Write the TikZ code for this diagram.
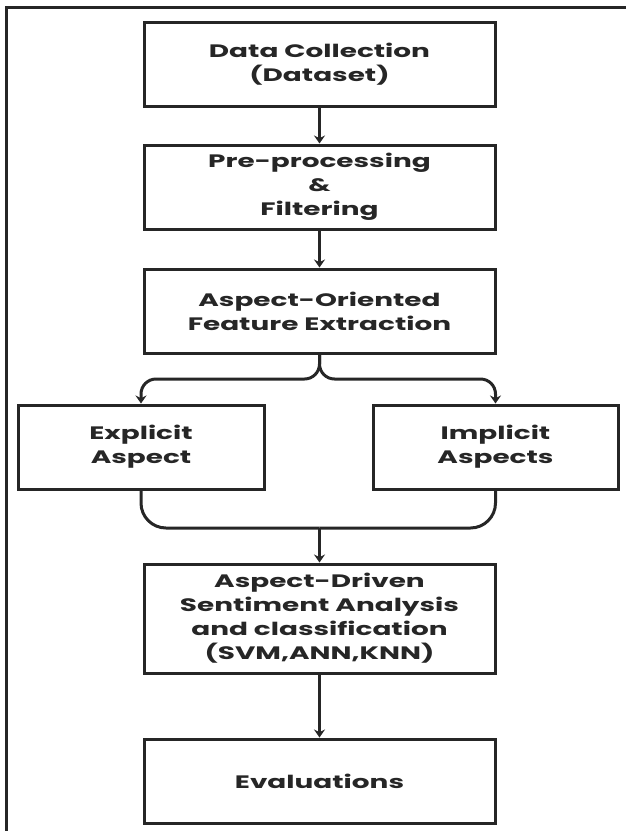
\documentclass[tikz,border=0pt]{standalone}
\usepackage{fontspec}
\setmainfont{Poppins}[FakeStretch=1.55]
\usetikzlibrary{positioning,arrows.meta}

\begin{document}
\begin{tikzpicture}[x=1pt,y=-1pt,
  stage/.style={draw=black!85,line width=3pt,align=center,
    minimum width=351pt,minimum height=84pt,inner sep=0pt,
    font=\fontsize{18}{24}\selectfont\bfseries,text=black!85},
  side/.style={stage,minimum width=246pt},
  flow/.style={line width=3pt,draw=black!85,-{Stealth[length=8pt,width=11pt]}},
  link/.style={line width=3pt,draw=black!85}]
\useasboundingbox (0,0) rectangle (626,831);

% frame
\draw[line width=3pt,black!85] (6,831) -- (6,7) -- (626,7);

\node[stage] (data) at (319.5,64.5) {Data Collection\\(Dataset)};
\node[stage] (prep) at (319.5,187) {Pre-processing\\\&\\Filtering};
\node[stage] (feat) at (319.5,311) {Aspect-Oriented\\Feature Extraction};

\node[side] (expl) at (141,447) {Explicit\\Aspect};
\node[side,minimum width=245pt] (impl) at (495.5,447) {Implicit\\Aspects};

\node[stage,minimum height=109pt] (sent) at (319.5,618.5) {Aspect-Driven\\Sentiment Analysis\\and classification\\(SVM,ANN,KNN)};
\node[stage] (eval) at (319.5,781) {Evaluations};

\coordinate (fork) at (319.5,379);
\coordinate (join) at (319.5,528);

\draw[flow] (data)--(prep);
\draw[flow] (prep)--(feat);

\draw[flow,rounded corners=15pt] (feat.south)--(fork)-|(expl.north);
\draw[flow,rounded corners=15pt] (feat.south)--(fork)-|(impl.north);

\draw[link,rounded corners=25pt] (expl.south)|-(join);
\draw[link,rounded corners=25pt] (impl.south)|-(join);

\draw[flow] (join)--(sent);
\draw[flow] (sent)--(eval);
\end{tikzpicture}
\end{document}
